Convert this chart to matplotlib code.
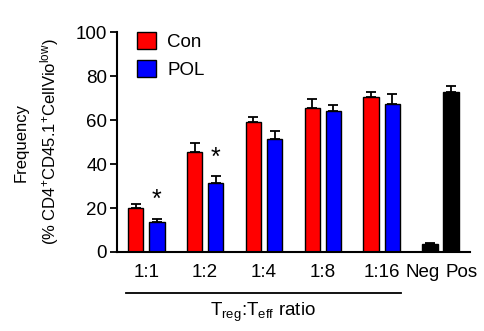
import numpy as np
import matplotlib
matplotlib.use('Agg')
import matplotlib.pyplot as plt

plt.rcParams['font.family'] = ['Liberation Sans', 'DejaVu Sans']
plt.rcParams['mathtext.fontset'] = 'custom'
plt.rcParams['mathtext.rm'] = 'Liberation Sans'
plt.rcParams['mathtext.it'] = 'Liberation Sans'

# data
ratios = ['1:1', '1:2', '1:4', '1:8', '1:16']
con_mean = [20.0, 45.5, 59.0, 65.5, 70.5]
con_err = [2.0, 4.0, 2.5, 4.0, 2.3]
pol_mean = [13.5, 31.2, 51.4, 64.0, 67.1]
pol_err = [1.6, 3.3, 3.5, 3.0, 4.7]
ctrl_labels = ['Neg', 'Pos']
ctrl_mean = [3.5, 72.7]
ctrl_err = [0.7, 2.8]
signif = [True, True, False, False, False]

fs = 13.5
fig = plt.figure(figsize=(4.85, 3.31), dpi=100)
ax = fig.add_axes([0.241, 0.2387, 0.728, 0.6643])

x = np.arange(len(ratios))
w = 0.26
off = 0.18
ekw = dict(fmt='none', ecolor='black', elinewidth=1.3, capsize=3.5, capthick=1.3)

ax.bar(x - off, con_mean, w, color='#ff0000', edgecolor='black', linewidth=1, label='Con', zorder=2)
ax.errorbar(x - off, con_mean, yerr=[np.zeros(len(x)), con_err], zorder=1, **ekw)
ax.bar(x + off, pol_mean, w, color='#0000ff', edgecolor='black', linewidth=1, label='POL', zorder=2)
ax.errorbar(x + off, pol_mean, yerr=[np.zeros(len(x)), pol_err], zorder=1, **ekw)

xc = np.array([5 - off, 5 + off])
ax.bar(xc, ctrl_mean, w, color='black', edgecolor='black', linewidth=1, zorder=2)
ax.errorbar(xc, ctrl_mean, yerr=[np.zeros(2), ctrl_err], zorder=1, **ekw)

for i, s in enumerate(signif):
    if s:
        ax.text(x[i] + off, pol_mean[i] + pol_err[i] + 8.5, '*', ha='center', va='center',
                fontsize=18)

ax.set_xlim(-0.5, 5.5)
ax.set_ylim(0, 100)
ax.set_yticks([0, 20, 40, 60, 80, 100])
ax.tick_params(axis='y', labelsize=fs, width=1.3, length=5, pad=2)
ax.tick_params(axis='x', length=0, labelsize=fs, pad=9)
ax.set_xticks(list(x) + [4.7, 5.35])
ax.set_xticklabels(ratios + ctrl_labels)
for sp in ['top', 'right']:
    ax.spines[sp].set_visible(False)
ax.spines['left'].set_linewidth(1.5)
ax.spines['bottom'].set_linewidth(1.5)

ax.set_ylabel('Frequency\n(% CD4$^{+}$CD45.1$^{+}$CellVio$^{\\mathrm{low}}$)', fontsize=12,
              labelpad=11, linespacing=1.5)

# group bracket under the ratio labels
ax.plot([-0.34, 4.32], [-0.186, -0.186], color='black', lw=1.3,
        transform=ax.get_xaxis_transform(), clip_on=False)
ax.text(1.99, -0.275, 'T$_{\\mathrm{reg}}$:T$_{\\mathrm{eff}}$ ratio', ha='center', va='center',
        fontsize=fs, transform=ax.get_xaxis_transform())

ax.legend(loc='upper left', bbox_to_anchor=(0.01, 1.075), frameon=False, fontsize=fs,
          handlelength=1.0, handleheight=1.0, handletextpad=0.6, labelspacing=0.45)

fig.savefig('out.png', dpi=100)
